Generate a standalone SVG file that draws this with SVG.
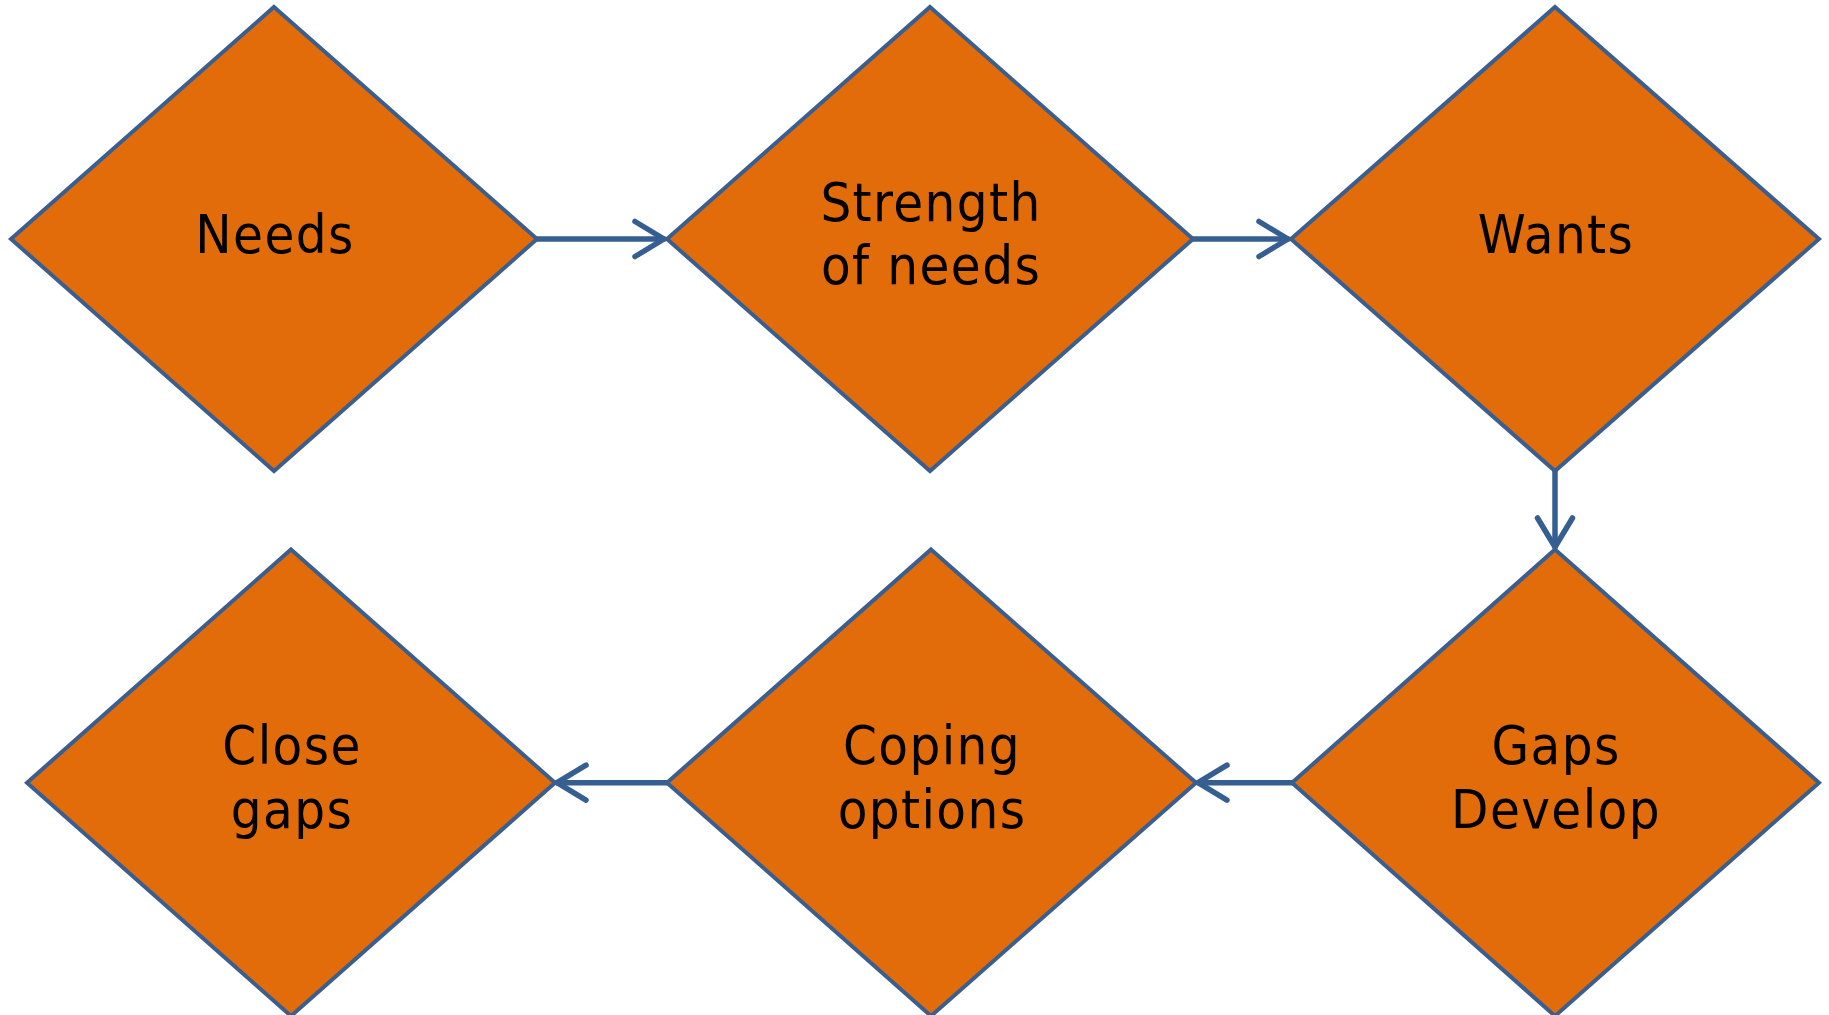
<svg xmlns="http://www.w3.org/2000/svg" width="1829" height="1015" viewBox="0 0 1829 1015">
<defs>
<style>
.node{fill:#E36C0A;stroke:#3A5F8F;stroke-width:4;stroke-linejoin:miter}
.lbl{font-family:"DejaVu Sans Condensed","DejaVu Sans","Liberation Sans",sans-serif;font-size:54px;letter-spacing:1.4px;fill:#000;text-anchor:middle}
.conn{stroke:#365F91;stroke-width:5.5;fill:none;stroke-linecap:round;stroke-linejoin:round}
</style>
<marker id="arr" markerUnits="userSpaceOnUse" viewBox="-40 -22 44 44" markerWidth="44" markerHeight="44" refX="0" refY="0" orient="auto">
<path d="M-29,-17.5 L0,0 L-29,17.5" fill="none" stroke="#365F91" stroke-width="5.5" stroke-linecap="round" stroke-linejoin="round"/>
</marker>
</defs>
<rect width="1829" height="1015" fill="#fff"/>
<g id="connectors">
<path class="conn" d="M537,239 L664,239" marker-end="url(#arr)"/>
<path class="conn" d="M1193,239 L1288,239" marker-end="url(#arr)"/>
<path class="conn" d="M1555,471 L1555,547" marker-end="url(#arr)"/>
<path class="conn" d="M1292,782.7 L1198,782.7" marker-end="url(#arr)"/>
<path class="conn" d="M667,782.7 L557,782.7" marker-end="url(#arr)"/>
</g>
<g id="needs">
<polygon class="node" points="274,7 537,239 274,471 11,239"/>
<text class="lbl" x="275" y="253">Needs</text>
</g>
<g id="strength">
<polygon class="node" points="930,7 1193,239 930,471 667,239"/>
<text class="lbl" x="931" y="221">Strength</text>
<text class="lbl" x="931" y="284">of needs</text>
</g>
<g id="wants">
<polygon class="node" points="1555,7 1819,239 1555,471 1291,239"/>
<text class="lbl" x="1556" y="253">Wants</text>
</g>
<g id="gaps">
<polygon class="node" points="1555,549.5 1819,782.7 1555,1016 1292,782.7"/>
<text class="lbl" x="1556" y="764">Gaps</text>
<text class="lbl" x="1556" y="828">Develop</text>
</g>
<g id="coping">
<polygon class="node" points="931,549.5 1196,782.7 931,1016 667,782.7"/>
<text class="lbl" x="932" y="764">Coping</text>
<text class="lbl" x="932" y="828">options</text>
</g>
<g id="close">
<polygon class="node" points="291,549.5 555,782.7 291,1016 27,782.7"/>
<text class="lbl" x="292" y="764">Close</text>
<text class="lbl" x="292" y="828">gaps</text>
</g>
</svg>
